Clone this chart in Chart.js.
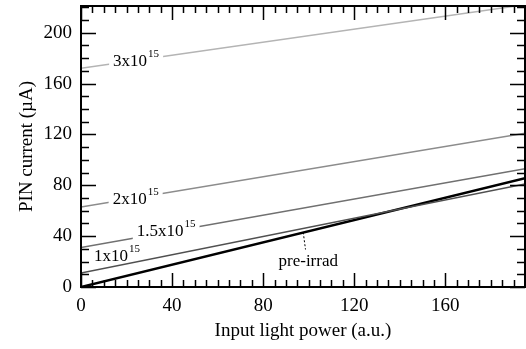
<!DOCTYPE html>
<html lang="en">
<head>
<meta charset="UTF-8">
<title>PIN current vs input light power</title>
<script src="https://cdn.jsdelivr.net/npm/chart.js"></script>
<style>
  html, body { margin:0; padding:0; background:#fff }
  canvas { display:block }
</style>
</head>
<body>
<canvas id="pin" width="526" height="349"></canvas>
<script>
  // axes
  const xTicks = [0, 40, 80, 120, 160];
  const yTicks = [0, 40, 80, 120, 160, 200];
  const xMax = 195, yMax = 221;

  // input light power (a.u.) at both ends of each fitted line
  const power = [0, 195];
  // PIN current (uA)
  const preIrrad = [0, 85.5];
  const fluence1 = [11, 81];
  const fluence15 = [31, 93];
  const fluence2 = [63, 121];
  const fluence3 = [172, 222];

  // in-plot labels (anchor in data units)
  const labelMain = ["3x10", "2x10", "1.5x10", "1x10", "pre-irrad"];
  const labelSup  = ["15", "15", "15", "15", ""];
  const labelX    = [24.2, 24, 37.4, 15.8, 99.8];
  const labelY    = [177, 68.5, 43.3, 23.6, 19.7];
  const labelCut  = [true, true, true, false, false];
  // dashed pointer from pre-irrad label to its line
  const pointerX = [97.6, 98.6];
  const pointerY = [43, 29.5];

  const serif = "'Liberation Serif', 'Times New Roman', serif";
  const pts = ys => power.map((x, i) => ({x, y: ys[i]}));

  function line(label, ys, color, w) {
    return { label, data: pts(ys), borderColor: color, borderWidth: w,
             showLine: true, pointRadius: 0, fill: false, tension: 0 };
  }

  // inward ticks on all four sides + frame
  const frameTicks = {
    id: "frameTicks",
    afterDraw(c) {
      const {ctx, chartArea: a, scales: {x, y}} = c;
      ctx.save();
      ctx.strokeStyle = "#000";
      ctx.lineWidth = 1.5;
      ctx.beginPath();
      for (let v = 0; v <= xMax; v += 5) {
        const px = Math.round(x.getPixelForValue(v)) + 0.5;
        const len = v % 40 === 0 ? 14 : 7;
        ctx.moveTo(px, a.bottom); ctx.lineTo(px, a.bottom - len);
        ctx.moveTo(px, a.top); ctx.lineTo(px, a.top + len);
      }
      for (let v = 0; v <= yMax; v += 10) {
        const py = Math.round(y.getPixelForValue(v)) + 0.5;
        const len = v % 40 === 0 ? 15 : 8;
        ctx.moveTo(a.left, py); ctx.lineTo(a.left + len, py);
        ctx.moveTo(a.right, py); ctx.lineTo(a.right - len, py);
      }
      ctx.stroke();
      ctx.lineWidth = 2;
      ctx.strokeRect(a.left, a.top, a.right - a.left, a.bottom - a.top);
      ctx.restore();
    }
  };

  // curve labels with a white gap where they sit on a line
  const curveLabels = {
    id: "curveLabels",
    afterDatasetsDraw(c) {
      const {ctx, scales: {x, y}} = c;
      ctx.save();
      ctx.textBaseline = "middle";
      ctx.textAlign = "left";
      labelMain.forEach((t, i) => {
        ctx.font = "17px " + serif;
        const w1 = ctx.measureText(t).width;
        ctx.font = "11px " + serif;
        const w2 = labelSup[i] ? ctx.measureText(labelSup[i]).width + 1 : 0;
        const cx = x.getPixelForValue(labelX[i]);
        const cy = y.getPixelForValue(labelY[i]);
        const x0 = cx - (w1 + w2) / 2;
        if (labelCut[i]) {
          ctx.fillStyle = "#fff";
          ctx.fillRect(x0 - 4, cy - 12, w1 + w2 + 8, 22);
        }
        ctx.fillStyle = "#000";
        ctx.font = "17px " + serif;
        ctx.fillText(t, x0, cy);
        if (labelSup[i]) {
          ctx.font = "11px " + serif;
          ctx.fillText(labelSup[i], x0 + w1 + 1, cy - 8);
        }
      });
      ctx.strokeStyle = "#000";
      ctx.lineWidth = 1;
      ctx.setLineDash([2, 2]);
      ctx.beginPath();
      ctx.moveTo(x.getPixelForValue(pointerX[0]), y.getPixelForValue(pointerY[0]));
      ctx.lineTo(x.getPixelForValue(pointerX[1]), y.getPixelForValue(pointerY[1]));
      ctx.stroke();
      ctx.restore();
    }
  };

  new Chart(document.getElementById("pin"), {
    type: "scatter",
    data: {
      datasets: [
        line("3x10^15", fluence3, "#b4b4b4", 1.5),
        line("2x10^15", fluence2, "#8c8c8c", 1.5),
        line("1.5x10^15", fluence15, "#707070", 1.5),
        line("1x10^15", fluence1, "#505050", 1.5),
        line("pre-irrad", preIrrad, "#000", 2.5)
      ]
    },
    options: {
      responsive: false,
      animation: false,
      layout: { padding: { top: 6, right: 1, left: 0, bottom: 0 } },
      plugins: { legend: { display: false }, tooltip: { enabled: false } },
      scales: {
        x: {
          type: "linear", min: 0, max: xMax,
          afterBuildTicks: s => { s.ticks = xTicks.map(v => ({value: v})); },
          afterFit: s => { s.height = 62; s.paddingLeft = 0; s.paddingRight = 0; },
          grid: { display: false, drawTicks: false },
          border: { display: false },
          ticks: { color: "#000", padding: 8, font: { family: serif, size: 19 } },
          title: { display: true, text: "Input light power (a.u.)", color: "#000",
                   padding: { top: 4, bottom: 7 }, font: { family: serif, size: 19 } }
        },
        y: {
          type: "linear", min: 0, max: yMax,
          afterBuildTicks: s => { s.ticks = yTicks.map(v => ({value: v})); },
          afterFit: s => { s.width = 81; s.paddingTop = 0; s.paddingBottom = 0; },
          grid: { display: false, drawTicks: false },
          border: { display: false },
          ticks: { color: "#000", padding: 9, font: { family: serif, size: 19 } },
          title: { display: true, text: "PIN current (\u00b5A)", color: "#000",
                   padding: { top: 16, bottom: 0 }, font: { family: serif, size: 19 } }
        }
      }
    },
    plugins: [frameTicks, curveLabels]
  });
</script>
</body>
</html>
